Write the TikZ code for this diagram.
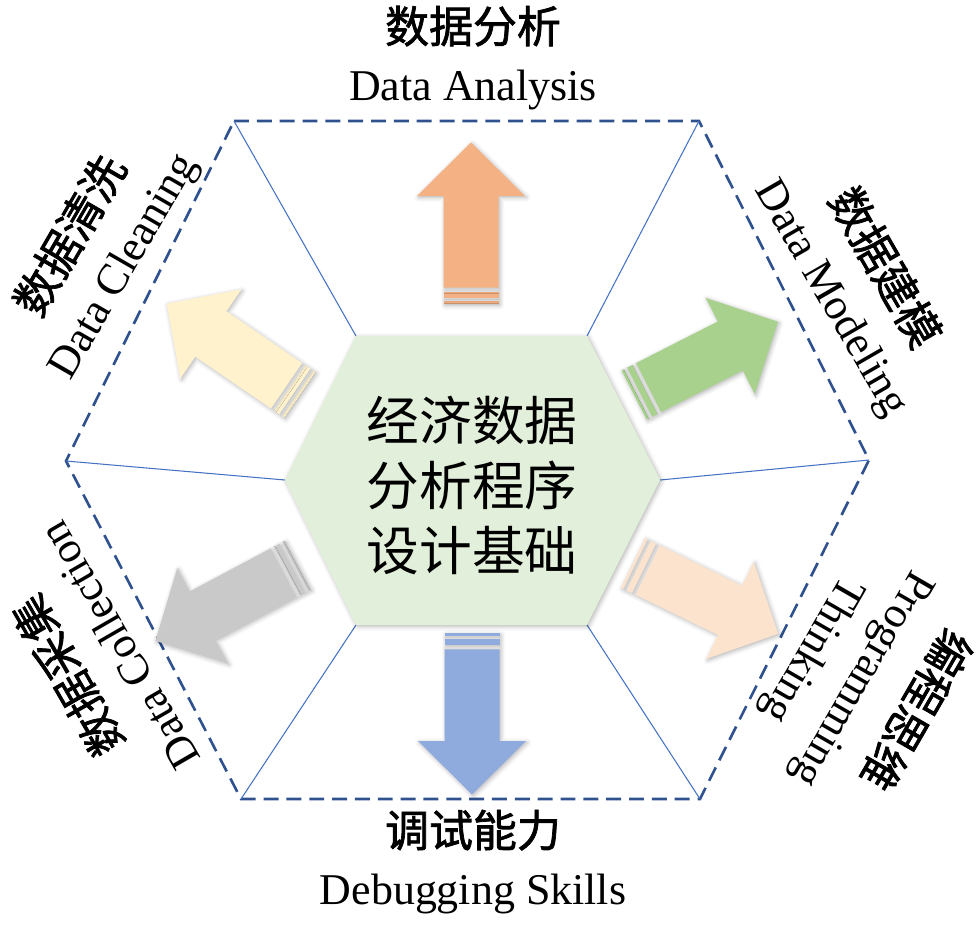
\documentclass[tikz,border=0pt]{standalone}
\usepackage{fontspec}
\setmainfont{Liberation Serif}
\newfontfamily\cjk{Noto Sans CJK SC}
\newfontfamily\cjkb{Noto Sans CJK SC}[FakeBold=1.6]
\usepackage{tikz}
\usetikzlibrary{shadows.blur}
\definecolor{RimBlue}{HTML}{2F528F}
\definecolor{SpokeBlue}{HTML}{4472C4}
\definecolor{CoreGreen}{HTML}{E2EFDA}
\definecolor{ArrOrange}{HTML}{F4B183}
\definecolor{ArrGreen}{HTML}{A9D18E}
\definecolor{ArrPeach}{HTML}{FBE3CD}
\definecolor{ArrBlue}{HTML}{8FAADC}
\definecolor{ArrGray}{HTML}{C9C9C9}
\definecolor{ArrYellow}{HTML}{FFF2CC}
\tikzset{
  rim/.style={draw=RimBlue,line width=1.5pt,dash pattern=on 8.5pt off 4.5pt},
  spoke/.style={draw=SpokeBlue,line width=0.6pt},
  soft/.style={blur shadow={shadow xshift=0.8pt,shadow yshift=-0.8pt,
               shadow blur radius=2.5pt,shadow opacity=30}},
  lbl/.style={align=center,inner sep=0pt,font=\fontsize{25}{33}\selectfont},
  pics/blockarrow/.style={code={
    \fill[#1,soft] (0,-27.5) rectangle (2.7,27.5);
    \fill[#1,soft] (6.3,-27.5) rectangle (12.3,27.5);
    \fill[#1,soft] (16.3,-27.5) -- (108,-27.5) -- (108,-54) -- (161.5,0)
      -- (108,54) -- (108,27.5) -- (16.3,27.5) -- cycle;
  }}
}

\begin{document}
\begin{tikzpicture}[x=0.02cm,y=-0.02cm]
  \useasboundingbox (0,0) rectangle (980,937);
  % outer and inner hexagon corners
  \coordinate (o1) at (234,121);
  \coordinate (o2) at (699,121);
  \coordinate (o3) at (869,460);
  \coordinate (o4) at (700,799);
  \coordinate (o5) at (241,799);
  \coordinate (o6) at (66,461);
  \coordinate (i1) at (356,336);
  \coordinate (i2) at (587,336);
  \coordinate (i3) at (660,480);
  \coordinate (i4) at (587,625);
  \coordinate (i5) at (356,625);
  \coordinate (i6) at (285,480);

  \draw[rim] (o1) -- (o2) -- (o3) -- (o4) -- (o5) -- (o6) -- cycle;
  \foreach \k in {1,...,6} \draw[spoke] (i\k) -- (o\k);
  \fill[CoreGreen,soft] (i1) -- (i2) -- (i3) -- (i4) -- (i5) -- (i6) -- cycle;

  \pic[rotate=90] at (471,304) {blockarrow=ArrOrange};
  \pic[rotate=27] at (634,395) {blockarrow=ArrGreen};
  \pic[rotate=-26] at (633,563) {blockarrow=ArrPeach};
  \pic[rotate=-90] at (472,633) {blockarrow=ArrBlue};
  \pic[rotate=208] at (298,565) {blockarrow=ArrGray};
  \pic[rotate=145.6] at (300,395) {blockarrow=ArrYellow};

  \node[font=\cjk\fontsize{30}{37}\selectfont,align=center,inner sep=0pt] (core) at (472,485)
    {经济数据\\分析程序\\设计基础};

  \node[lbl] (ana) at (473,58) {{\cjkb 数据分析}\\Data Analysis};
  \node[lbl,rotate=-60] (model) at (858,283) {{\cjkb 数据建模}\\Data Modeling};
  \node[lbl,rotate=-120] (prog) at (864,680) {{\cjkb 编程思维}\\Programming\\Thinking};
  \node[lbl] (debug) at (473,862) {{\cjkb 调试能力}\\Debugging Skills};
  \node[lbl,rotate=120] (collect) at (91,662) {{\cjkb 数据采集}\\Data Collection};
  \node[lbl,rotate=60] (clean) at (97,251) {{\cjkb 数据清洗}\\Data Cleaning};
\end{tikzpicture}
\end{document}
